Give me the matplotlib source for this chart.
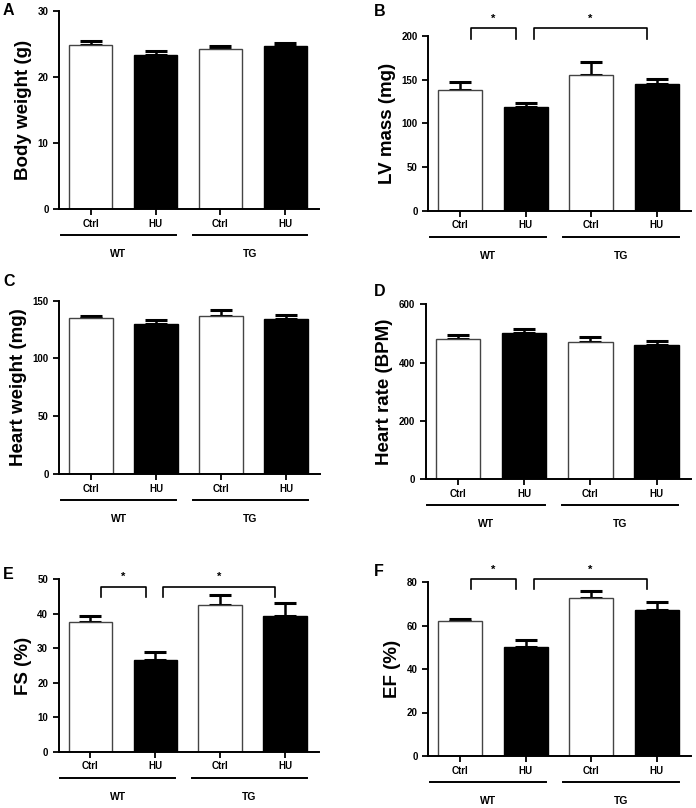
import matplotlib
matplotlib.use("Agg")
import matplotlib.pyplot as plt
from matplotlib.transforms import blended_transform_factory

plt.rcParams['font.family'] = ['Liberation Sans', 'DejaVu Sans']
plt.rcParams['font.weight'] = 'bold'

# ---- data ----
conditions = ["Ctrl", "HU", "Ctrl", "HU"]
groups = ["WT", "TG"]

bw_mean = [24.8, 23.3, 24.3, 24.7]
bw_err = [0.7, 0.6, 0.4, 0.4]

lv_mean = [138, 119, 155, 145]
lv_err = [9, 4, 15, 6]

hw_mean = [134.7, 130.0, 137.0, 134.4]
hw_err = [2.3, 3.0, 5.2, 3.2]

hr_mean = [480, 500, 470, 462]
hr_err = [16, 17, 17, 12]

fs_mean = [37.7, 26.5, 42.6, 39.5]
fs_err = [1.6, 2.5, 2.9, 3.7]

ef_mean = [61.9, 50.1, 72.8, 67.3]
ef_err = [1.2, 3.2, 3.2, 3.7]

panels = [
    dict(letter="A", ylabel="Body weight (g)", mean=bw_mean, err=bw_err,
         ymax=30, yticks=[0, 10, 20, 30], box=(59, 11, 319, 209),
         letter_xy=(3, 3), sig=None),
    dict(letter="B", ylabel="LV mass (mg)", mean=lv_mean, err=lv_err,
         ymax=200, yticks=[0, 50, 100, 150, 200], box=(428, 36, 691, 210.7),
         letter_xy=(374, 4), sig=(209, 197)),
    dict(letter="C", ylabel="Heart weight (mg)", mean=hw_mean, err=hw_err,
         ymax=150, yticks=[0, 50, 100, 150], box=(59, 300.7, 320, 474),
         letter_xy=(3, 274), sig=None),
    dict(letter="D", ylabel="Heart rate (BPM)", mean=hr_mean, err=hr_err,
         ymax=600, yticks=[0, 200, 400, 600], box=(425.5, 304.3, 691, 479.3),
         letter_xy=(374, 284), sig=None),
    dict(letter="E", ylabel="FS (%)", mean=fs_mean, err=fs_err,
         ymax=50, yticks=[0, 10, 20, 30, 40, 50], box=(58.5, 579.3, 319, 751.7),
         letter_xy=(3, 567), sig=(47.9, 45.0)),
    dict(letter="F", ylabel="EF (%)", mean=ef_mean, err=ef_err,
         ymax=80, yticks=[0, 20, 40, 60, 80], box=(428, 582, 691, 756),
         letter_xy=(374, 564), sig=(81.2, 76.6)),
]

W, H = 696, 808
fig = plt.figure(figsize=(W / 100, H / 100), dpi=100)

colors = ["white", "black", "white", "black"]
edges = ["#444444", "black", "#444444", "black"]
x = list(range(4))

for p in panels:
    x0, y0, x1, y1 = p["box"]
    ax = fig.add_axes([x0 / W, 1 - y1 / H, (x1 - x0) / W, (y1 - y0) / H])
    ax.bar(x, p["mean"], width=0.67, color=colors, edgecolor=edges, linewidth=1.0, zorder=2)
    for xi, m, e in zip(x, p["mean"], p["err"]):
        ax.errorbar([xi], [m], yerr=[[0], [e]], fmt="none", ecolor="black",
                    elinewidth=1.8, capsize=8, capthick=2.2, zorder=1)
    ax.set_xlim(-0.49, 3.52)
    ax.set_ylim(0, p["ymax"])
    ax.set_yticks(p["yticks"])
    ax.set_xticks(x)
    ax.set_xticklabels(conditions)
    for s in ["top", "right"]:
        ax.spines[s].set_visible(False)
    for s in ["left", "bottom"]:
        ax.spines[s].set_linewidth(1.4)
    ax.tick_params(axis="both", width=1.3, length=4, labelsize=7)
    ax.tick_params(axis="x", pad=3)
    for lab in ax.get_xticklabels() + ax.get_yticklabels():
        lab.set_fontweight("bold")
    ax.set_ylabel(p["ylabel"], fontsize=13.5, fontweight="bold", labelpad=4)

    # group lines and labels below axis
    ah = y1 - y0
    trans = blended_transform_factory(ax.transData, ax.transAxes)
    line_y = -26 / ah
    lab_y = -45 / ah
    spans = [(-0.46, 1.31), (1.57, 3.33)]
    for (a, b), g in zip(spans, groups):
        ax.plot([a, b], [line_y, line_y], color="black", lw=1.4,
                transform=trans, clip_on=False)
        ax.text((a + b) / 2, lab_y, g, transform=trans, ha="center", va="center",
                fontsize=7.5, fontweight="bold")

    # significance brackets
    if p["sig"] is not None:
        top, drop = p["sig"]
        for a, b in [(0.17, 0.85), (1.12, 2.85)]:
            ax.plot([a, a, b, b], [drop, top, top, drop], color="black", lw=1.2,
                    clip_on=False)
            ax.text((a + b) / 2, top + (p["ymax"] * 0.025), "*", ha="center",
                    va="bottom", fontsize=8, fontweight="bold")

    lx, ly = p["letter_xy"]
    fig.text(lx / W, 1 - ly / H, p["letter"], fontsize=11.5, fontweight="bold",
             ha="left", va="top")

fig.savefig("out.png", dpi=100)
